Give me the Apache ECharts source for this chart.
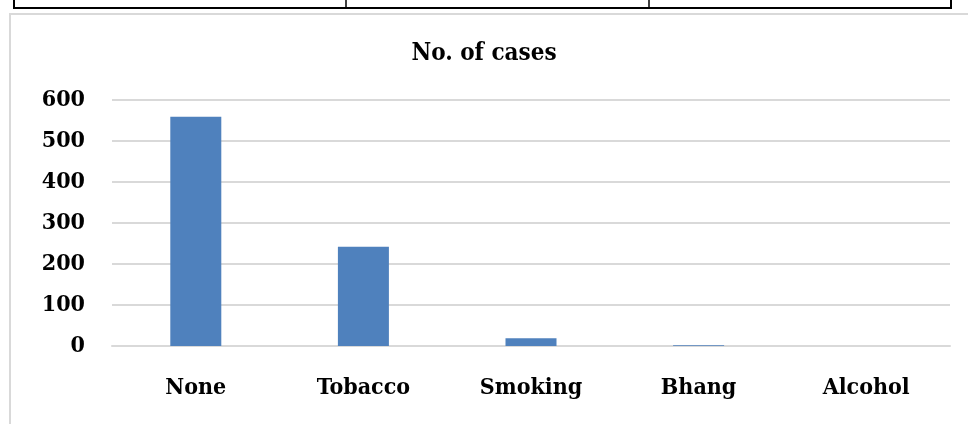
<!DOCTYPE html>
<html>
<head>
<meta charset="utf-8">
<script src="https://cdn.jsdelivr.net/npm/echarts@6/dist/echarts.min.js"></script>
<style>
  html, body { margin: 0; padding: 0; background: #fff; }
  #main { width: 968px; height: 424px; }
</style>
</head>
<body>
<div id="main"></div>
<script>
// data
var categories = ['None', 'Tobacco', 'Smoking', 'Bhang', 'Alcohol'];
var cases = [559, 242, 19, 2, 0];
var yTicks = [0, 100, 200, 300, 400, 500, 600];

var labelFont = {
    fontFamily: '"DejaVu Serif Condensed", "DejaVu Serif"',
    fontWeight: 'bold',
    fontSize: 23,
    color: '#000'
};

var myChart = echarts.init(document.getElementById('main'));

var option = {
    animation: false,
    backgroundColor: '#fff',
    title: {
        text: 'No. of cases',
        left: 'center',
        top: 37,
        textStyle: Object.assign({}, labelFont, { fontSize: 24 })
    },
    grid: {
        left: 112,
        right: 18,
        top: 100,
        bottom: 78
    },
    xAxis: {
        type: 'category',
        data: categories,
        axisTick: { show: false },
        axisLine: { lineStyle: { color: '#d9d9d9', width: 2 } },
        axisLabel: Object.assign({ margin: 31 }, labelFont)
    },
    yAxis: {
        type: 'value',
        min: yTicks[0],
        max: yTicks[yTicks.length - 1],
        interval: 100,
        axisLine: { show: false },
        axisTick: { show: false },
        splitLine: { lineStyle: { color: '#d9d9d9', width: 2 } },
        axisLabel: Object.assign({ margin: 27 }, labelFont)
    },
    series: [{
        name: 'No. of cases',
        type: 'bar',
        data: cases,
        barWidth: 51,
        itemStyle: { color: '#4f81bd' }
    }],
    // page frame and the edge of the table above it
    graphic: [
        {
            type: 'rect',
            shape: { x: 10, y: 14, width: 1000, height: 500 },
            style: { fill: 'none', stroke: '#d9d9d9', lineWidth: 2 },
            z: -1
        },
        {
            type: 'polyline',
            shape: { points: [[14, -5], [14, 8], [951, 8], [951, -5]] },
            style: { fill: 'none', stroke: '#000', lineWidth: 2 }
        },
        {
            type: 'line',
            shape: { x1: 346, y1: -5, x2: 346, y2: 8 },
            style: { stroke: '#000', lineWidth: 1.5 }
        },
        {
            type: 'line',
            shape: { x1: 649, y1: -5, x2: 649, y2: 8 },
            style: { stroke: '#000', lineWidth: 1.5 }
        }
    ]
};

myChart.setOption(option);
</script>
</body>
</html>
